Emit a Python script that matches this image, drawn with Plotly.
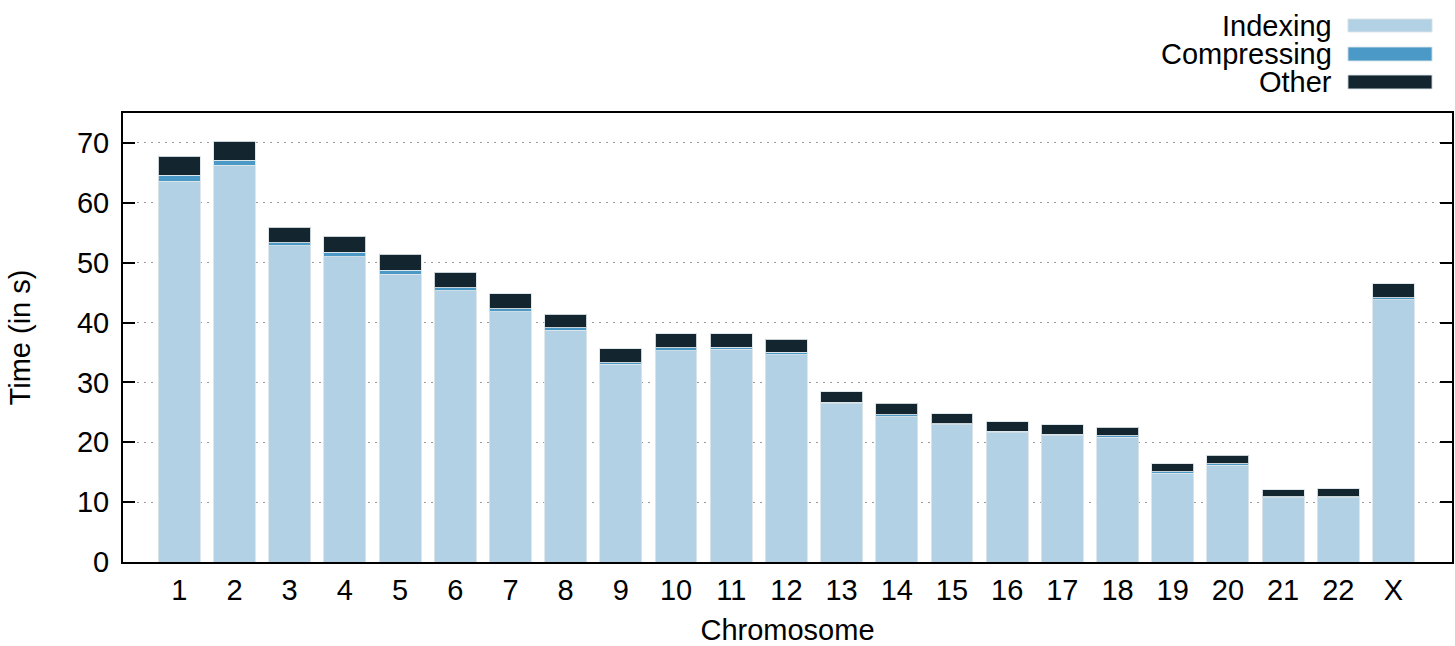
import plotly.graph_objects as go

chromosomes = ["1", "2", "3", "4", "5", "6", "7", "8", "9", "10", "11", "12",
               "13", "14", "15", "16", "17", "18", "19", "20", "21", "22", "X"]
indexing = [63.6, 66.3, 52.8, 51.0, 48.1, 45.3, 41.8, 38.7, 33.0, 35.3, 35.5, 34.6,
            26.4, 24.3, 22.9, 21.6, 21.1, 20.85, 14.85, 16.2, 10.75, 10.75, 43.8]
compressing = [1.0, 0.8, 0.5, 0.7, 0.6, 0.5, 0.5, 0.4, 0.3, 0.5, 0.4, 0.4,
               0.3, 0.3, 0.2, 0.2, 0.2, 0.2, 0.2, 0.2, 0.15, 0.15, 0.3]
other = [3.2, 3.2, 2.65, 2.75, 2.7, 2.6, 2.5, 2.3, 2.3, 2.3, 2.2, 2.2,
         1.75, 1.9, 1.7, 1.65, 1.6, 1.5, 1.35, 1.4, 1.2, 1.3, 2.4]

series_names = ["Indexing", "Compressing", "Other"]
colors = ["#b2d1e4", "#4b99c6", "#13252f"]
yticks = [0, 10, 20, 30, 40, 50, 60, 70]

FONT = "Liberation Sans, Arial, sans-serif"
FS = 29

fig = go.Figure()
for name, vals, col in zip(series_names, [indexing, compressing, other], colors):
    fig.add_trace(go.Bar(
        x=chromosomes, y=vals, name=name,
        marker=dict(color=col, line=dict(color="rgba(220,228,233,0.9)", width=1)),
        showlegend=False,
    ))

# manual legend (text left of swatch, right-aligned like the reference)
leg_y = [(1.1945, 1.2094, 1.1804), (1.132, 1.147, 1.1158), (1.069, 1.0846, 1.0535)]
for name, col, (ty, y0, y1) in zip(series_names, colors, leg_y):
    fig.add_annotation(xref="paper", yref="paper", x=0.9115, y=ty, text=name,
                       showarrow=False, xanchor="right", yanchor="middle",
                       font=dict(family=FONT, size=FS, color="black"))
    fig.add_shape(type="rect", xref="paper", yref="paper",
                  x0=0.9217, x1=0.985, y0=y1, y1=y0,
                  fillcolor=col, line=dict(color="rgba(220,228,233,0.9)", width=1))

fig.update_layout(
    barmode="stack",
    bargap=0.24,
    width=1455, height=646,
    margin=dict(l=123, r=3, t=113, b=84),
    plot_bgcolor="white", paper_bgcolor="white",
    font=dict(family=FONT, size=FS, color="black"),
)
fig.update_xaxes(
    type="category", range=[-1.02, 23.06], automargin=False,
    showline=True, linecolor="black", linewidth=2, mirror=True,
    ticks="", showgrid=False,
    title=dict(text="Chromosome", standoff=20, font=dict(size=FS)),
    tickfont=dict(size=FS),
    ticklabelstandoff=1,
)
fig.update_yaxes(
    range=[0, 75], tickvals=yticks, automargin=False,
    showline=True, linecolor="black", linewidth=2, mirror="ticks",
    ticks="inside", ticklen=12, tickwidth=2, tickcolor="black",
    showgrid=True, gridcolor="#9a9a9a", gridwidth=1, griddash="2px,5px",
    zeroline=False,
    title=dict(text="Time (in s)", standoff=38, font=dict(size=FS)),
    tickfont=dict(size=FS),
    ticklabelstandoff=6,
)

fig.write_html("out.html", config={"displayModeBar": False},
               post_script="document.body.style.margin='0';")
